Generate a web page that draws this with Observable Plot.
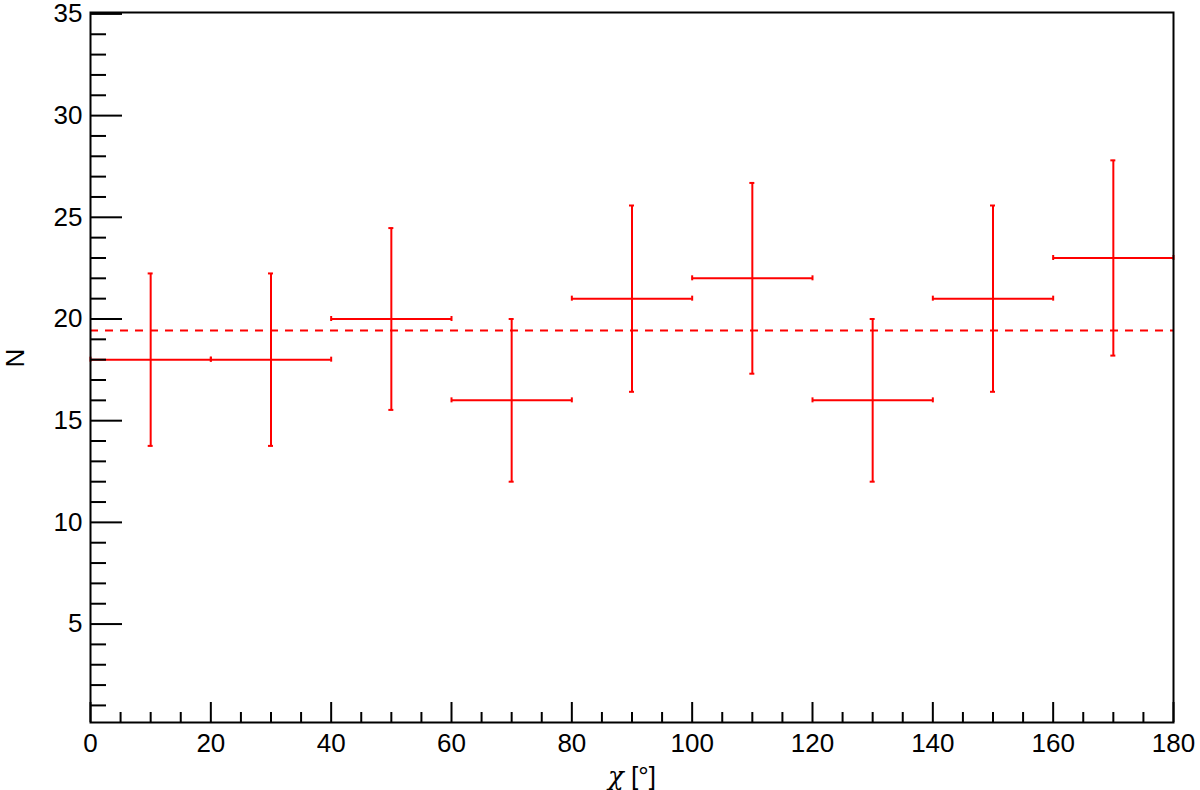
<!DOCTYPE html>
<html><head><meta charset="utf-8">
<script src="https://cdn.jsdelivr.net/npm/d3@7"></script>
<script src="https://cdn.jsdelivr.net/npm/@observablehq/plot@0.6"></script>
<style>html,body{margin:0;padding:0;background:#fff} svg{display:block}</style>
</head><body><div id="chart"></div>
<script>
// ---- data ----
const binCenters = [10, 30, 50, 70, 90, 110, 130, 150, 170];
const binLow     = [0, 20, 40, 60, 80, 100, 120, 140, 160];
const binHigh    = [20, 40, 60, 80, 100, 120, 140, 160, 180];
const counts     = [18, 18, 20, 16, 21, 22, 16, 21, 23];
const errors     = [4.24, 4.24, 4.47, 4.0, 4.58, 4.69, 4.0, 4.58, 4.80];
const meanLevel  = [19.44];

const xMajor = [0, 20, 40, 60, 80, 100, 120, 140, 160, 180];
const xMinor = [5, 10, 15, 25, 30, 35, 45, 50, 55, 65, 70, 75, 85, 90, 95, 105, 110, 115, 125, 130, 135, 145, 150, 155, 165, 170, 175];
const yMajor = [5, 10, 15, 20, 25, 30, 35];
const yMinor = [1, 2, 3, 4, 6, 7, 8, 9, 11, 12, 13, 14, 16, 17, 18, 19, 21, 22, 23, 24, 26, 27, 28, 29, 31, 32, 33, 34];

const xLabelSymbol = "χ";
const xLabelUnit = " [°]";
const yLabel = "N";
const xDomain = [0, 180];
const yDomain = [0.16, 35.07];

const rows = binCenters.map((c, i) => ({c, lo: binLow[i], hi: binHigh[i], n: counts[i], e: errors[i]}));

const red = "#ff0000";
const font = "'Liberation Sans', Arial, Helvetica, sans-serif";
const fs = 26;

const plot = Plot.plot({
  width: 1200, height: 790,
  marginTop: 12, marginRight: 27, marginBottom: 68, marginLeft: 90,
  style: {fontFamily: font, background: "#fff", color: "#000"},
  x: {domain: xDomain, axis: null},
  y: {domain: yDomain, axis: null},
  marks: [
    Plot.ruleY(meanLevel, {stroke: red, strokeWidth: 2, strokeDasharray: "8,7"}),
    Plot.ruleX(rows, {x: "c", y1: d => d.n - d.e, y2: d => d.n + d.e, stroke: red, strokeWidth: 2}),
    Plot.ruleY(rows, {y: "n", x1: "lo", x2: "hi", stroke: red, strokeWidth: 2}),
    Plot.ruleY(rows, {y: d => d.n + d.e, x1: "c", x2: "c", insetLeft: -2.5, insetRight: -2.5, stroke: red, strokeWidth: 2}),
    Plot.ruleY(rows, {y: d => d.n - d.e, x1: "c", x2: "c", insetLeft: -2.5, insetRight: -2.5, stroke: red, strokeWidth: 2}),
    Plot.ruleX(rows, {x: "lo", y1: "n", y2: "n", insetTop: -2.5, insetBottom: -2.5, stroke: red, strokeWidth: 2}),
    Plot.ruleX(rows, {x: "hi", y1: "n", y2: "n", insetTop: -2.5, insetBottom: -2.5, stroke: red, strokeWidth: 2}),
    Plot.ruleX(xMinor, {x: d => d, y1: yDomain[0], y2: yDomain[0], insetTop: -10, stroke: "#000", strokeWidth: 2}),
    Plot.ruleX(xMajor, {x: d => d, y1: yDomain[0], y2: yDomain[0], insetTop: -20, stroke: "#000", strokeWidth: 2}),
    Plot.ruleY(yMinor, {y: d => d, x1: xDomain[0], x2: xDomain[0], insetRight: -16, stroke: "#000", strokeWidth: 2}),
    Plot.ruleY(yMajor, {y: d => d, x1: xDomain[0], x2: xDomain[0], insetRight: -32, stroke: "#000", strokeWidth: 2}),
    Plot.frame({stroke: "#000", strokeWidth: 2}),
    Plot.axisX({ticks: xMajor, tickSize: 0, tickPadding: 11, fontSize: fs, label: null, tickFormat: d => String(d)}),
    Plot.axisY({ticks: yMajor, tickSize: 0, tickPadding: 8, fontSize: fs, label: null, tickFormat: d => String(d)}),
    Plot.text([xLabelSymbol + xLabelUnit], {text: d => d, frameAnchor: "bottom", dy: 62, lineAnchor: "bottom", fontSize: fs, fill: "#000", className: "xtitle"}),
    Plot.text([yLabel], {text: d => d, frameAnchor: "left", dx: -67, rotate: -90, lineAnchor: "bottom", fontSize: fs, fill: "#000"})
  ]
});
// render the Greek symbol in a serif italic face, like the reference
plot.querySelectorAll("text").forEach(t => {
  if (t.textContent === xLabelSymbol + xLabelUnit) {
    t.textContent = "";
    const ns = "http://www.w3.org/2000/svg";
    const a = document.createElementNS(ns, "tspan");
    a.setAttribute("font-family", "'DejaVu Serif', 'Liberation Serif', serif");
    a.setAttribute("font-style", "italic");
    a.textContent = xLabelSymbol;
    const b = document.createElementNS(ns, "tspan");
    b.textContent = xLabelUnit;
    t.appendChild(a); t.appendChild(b);
  }
});
document.getElementById("chart").appendChild(plot);
</script>
</body></html>
